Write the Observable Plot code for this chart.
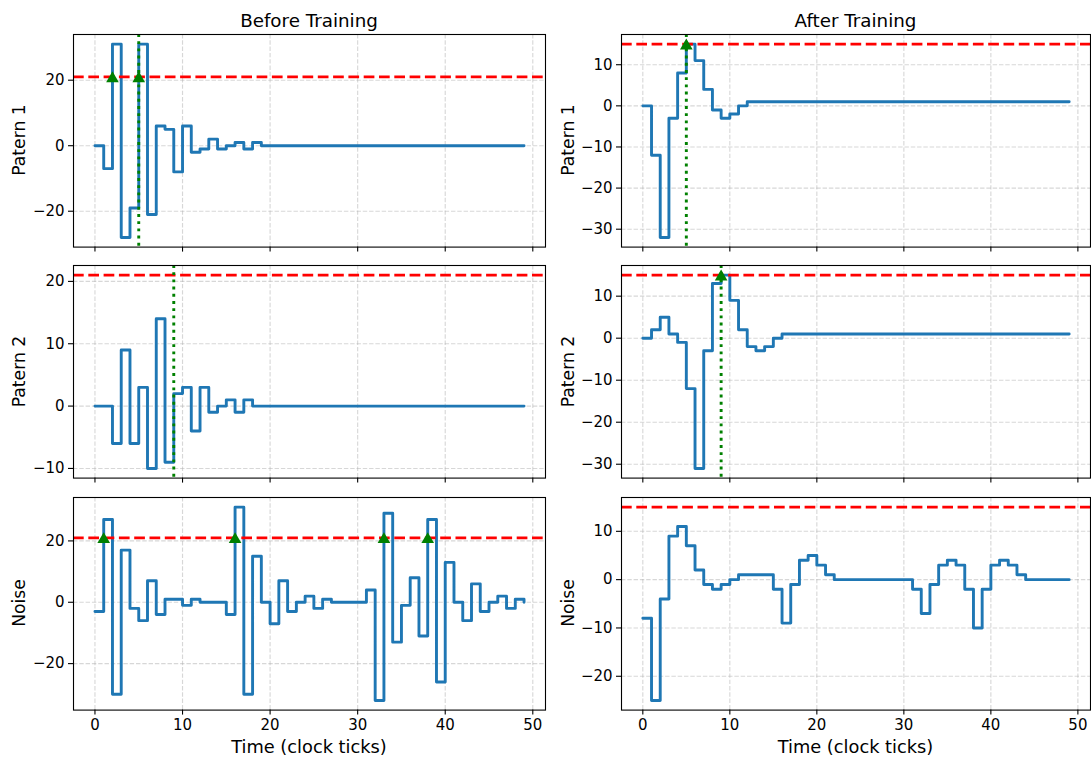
<!DOCTYPE html>
<html><head><meta charset="utf-8">
<script src="https://cdn.jsdelivr.net/npm/d3@7"></script>
<script src="https://cdn.jsdelivr.net/npm/@observablehq/plot@0.6"></script>
<style>
html,body{margin:0;padding:0;background:#fff;}
#fig{position:relative;width:1091px;height:758px;background:#fff;overflow:hidden;font-family:"DejaVu Sans",sans-serif;}
#fig svg{position:absolute;}
</style></head><body><div id="fig"></div>
<script>
// ---- data ----
const time = [0,1,2,3,4,5,6,7,8,9,10,11,12,13,14,15,16,17,18,19,20,21,22,23,24,25,26,27,28,29,30,31,32,33,34,35,36,37,38,39,40,41,42,43,44,45,46,47,48,49];
const xTicks = [0,10,20,30,40,50];

const beforeP1 = [0,-7,31,-28,-19,31,-21,6,5,-8,6,-2,-1,2,-1,0,1,-1,1,0, 0,0,0,0,0,0,0,0,0,0, 0,0,0,0,0,0,0,0,0,0, 0,0,0,0,0,0,0,0,0,0];
const beforeP2 = [0,0,-6,9,-6,3,-10,14,-9,2,3,-4,3,-1,0,1,-1,1,0,0, 0,0,0,0,0,0,0,0,0,0, 0,0,0,0,0,0,0,0,0,0, 0,0,0,0,0,0,0,0,0,0];
const beforeNoise = [-3,27,-30,17,-2,-6,7,-4,1,1,-1,1,0,0,0,-4,31,-30,15,0, -7,7,-3,0,2,-2,1,0,0,0, 0,4,-32,29,-13,-1,8,-11,27,-26, 13,0,-6,6,-3,0,2,-2,1,0];
const afterP1 = [0,-12,-32,-3,8,15,11,4,-1,-3,-2,0,1,1,1,1,1,1,1,1, 1,1,1,1,1,1,1,1,1,1, 1,1,1,1,1,1,1,1,1,1, 1,1,1,1,1,1,1,1,1,1];
const afterP2 = [0,2,5,1,-1,-12,-31,-3,13,15,9,2,-2,-3,-2,0,1,1,1,1, 1,1,1,1,1,1,1,1,1,1, 1,1,1,1,1,1,1,1,1,1, 1,1,1,1,1,1,1,1,1,1];
const afterNoise = [-8,-25,-4,9,11,7,2,-1,-2,-1,0,1,1,1,1,-2,-9,-1,4,5, 3,1,0,0,0,0,0,0,0,0, 0,-2,-7,-1,3,4,3,-2,-10,-2, 3,4,3,1,0,0,0,0,0,0];

const thresholdBefore = 21;
const thresholdAfter = 15;
const spikesBeforeP1 = [2,5];
const spikesBeforeP2 = [];
const spikesBeforeNoise = [1,16,33,38];
const spikesAfterP1 = [5];
const spikesAfterP2 = [9];
const spikesAfterNoise = [];
const targetP1 = 5;
const targetP2 = 9;

const ticksBeforeP1 = [-20,0,20];
const ticksBeforeP2 = [-10,0,10,20];
const ticksBeforeNoise = [-20,0,20];
const ticksAfterP1 = [-30,-20,-10,0,10];
const ticksAfterP2 = [-30,-20,-10,0,10];
const ticksAfterNoise = [-20,-10,0,10];

const rowLabels = ["Patern 1","Patern 2","Noise"];
const colTitles = ["Before Training","After Training"];
const xLabel = "Time (clock ticks)";

// ---- layout ----
const fig = document.getElementById("fig");
const fmt = d => d < 0 ? "\u2212" + Math.abs(d) : String(d);
const xDomain = [-2.45, 51.45];
function yDomain(vals, thr) {
  const lo = Math.min(d3.min(vals), thr), hi = Math.max(d3.max(vals), thr);
  const pad = (hi - lo) * 0.05;
  return [lo - pad, hi + pad];
}
const FRAME_H = 212.6;
const rowsTop = [33.7, 265.2, 496.7];
const cols = [{svgLeft: 0, width: 560, ml: 73, mr: 15}, {svgLeft: 560, width: 531, ml: 61, mr: 1}];
const gridStyle = {stroke: "#b0b0b0", strokeOpacity: 0.5, strokeWidth: 1.1, strokeDasharray: "4.4,1.9"};

function panel(p, col, row) {
  const c = cols[col];
  const mt = 10, mb = 30;
  const data = time.map((t, i) => ({t, v: p.values[i]}));
  const marks = [
    Plot.gridX(xTicks, gridStyle),
    Plot.gridY(p.yTicks, gridStyle),
    Plot.line(data, {x: "t", y: "v", curve: "step-after", stroke: "#1f77b4", strokeWidth: 2.9}),
    Plot.ruleY([p.thr], {stroke: "red", strokeWidth: 2.9, strokeDasharray: "10.7,4.6"})
  ];
  if (p.vline != null) marks.push(Plot.ruleX([p.vline], {stroke: "green", strokeWidth: 2.9, strokeDasharray: "2.9,4.3"}));
  marks.push(Plot.dot(p.spikes.map(s => ({t: s, v: p.thr})), {x: "t", y: "v", symbol: "triangle", fill: "green", stroke: "none", r: 4.7, dy: 1.6}));
  marks.push(Plot.frame({stroke: "black", strokeWidth: 1.1}));
  marks.push(Plot.axisX(xTicks, {tickSize: 5, tickPadding: 4, tickFormat: row === 2 ? fmt : () => "", label: null, strokeWidth: 1.1}));
  marks.push(Plot.axisY(p.yTicks, {tickSize: 5, tickPadding: 4, tickFormat: fmt, label: null, strokeWidth: 1.1}));
  const svg = Plot.plot({
    width: c.width, height: mt + FRAME_H + mb,
    marginLeft: c.ml, marginRight: c.mr, marginTop: mt, marginBottom: mb,
    style: {background: "transparent", overflow: "visible", fontFamily: "DejaVu Sans, sans-serif", fontSize: "15px", color: "black", maxWidth: "none"},
    x: {domain: xDomain},
    y: {domain: yDomain(p.values, p.thr)},
    marks
  });
  svg.style.left = c.svgLeft + "px";
  svg.style.top = (rowsTop[row] - mt) + "px";
  fig.appendChild(svg);
}

const panels = [
  [{values: beforeP1, thr: thresholdBefore, spikes: spikesBeforeP1, vline: targetP1, yTicks: ticksBeforeP1},
   {values: afterP1, thr: thresholdAfter, spikes: spikesAfterP1, vline: targetP1, yTicks: ticksAfterP1}],
  [{values: beforeP2, thr: thresholdBefore, spikes: spikesBeforeP2, vline: targetP2, yTicks: ticksBeforeP2},
   {values: afterP2, thr: thresholdAfter, spikes: spikesAfterP2, vline: targetP2, yTicks: ticksAfterP2}],
  [{values: beforeNoise, thr: thresholdBefore, spikes: spikesBeforeNoise, vline: null, yTicks: ticksBeforeNoise},
   {values: afterNoise, thr: thresholdAfter, spikes: spikesAfterNoise, vline: null, yTicks: ticksAfterNoise}]
];
panels.forEach((r, row) => r.forEach((p, col) => panel(p, col, row)));

// ---- text overlay ----
const NS = "http://www.w3.org/2000/svg";
const ov = document.createElementNS(NS, "svg");
ov.setAttribute("width", 1091); ov.setAttribute("height", 758);
ov.style.left = "0px"; ov.style.top = "0px"; ov.style.pointerEvents = "none";
fig.appendChild(ov);
function addText(str, x, y, size, rotate) {
  const t = document.createElementNS(NS, "text");
  t.textContent = str;
  t.setAttribute("text-anchor", "middle");
  t.setAttribute("font-family", "DejaVu Sans, sans-serif");
  t.setAttribute("font-size", size);
  t.setAttribute("fill", "black");
  t.setAttribute("transform", `translate(${x},${y})` + (rotate ? " rotate(-90)" : ""));
  ov.appendChild(t);
}
const colCenters = [(73 + 545) / 2, (621 + 1090) / 2];
const labelX = [25, 574];
colTitles.forEach((s, i) => addText(s, colCenters[i], 26.7, 18.3, false));
colCenters.forEach(cx => addText(xLabel, cx, 752.5, 17.8, false));
rowLabels.forEach((s, row) => labelX.forEach(lx => addText(s, lx, rowsTop[row] + FRAME_H / 2, 17.2, true)));
</script></body></html>
